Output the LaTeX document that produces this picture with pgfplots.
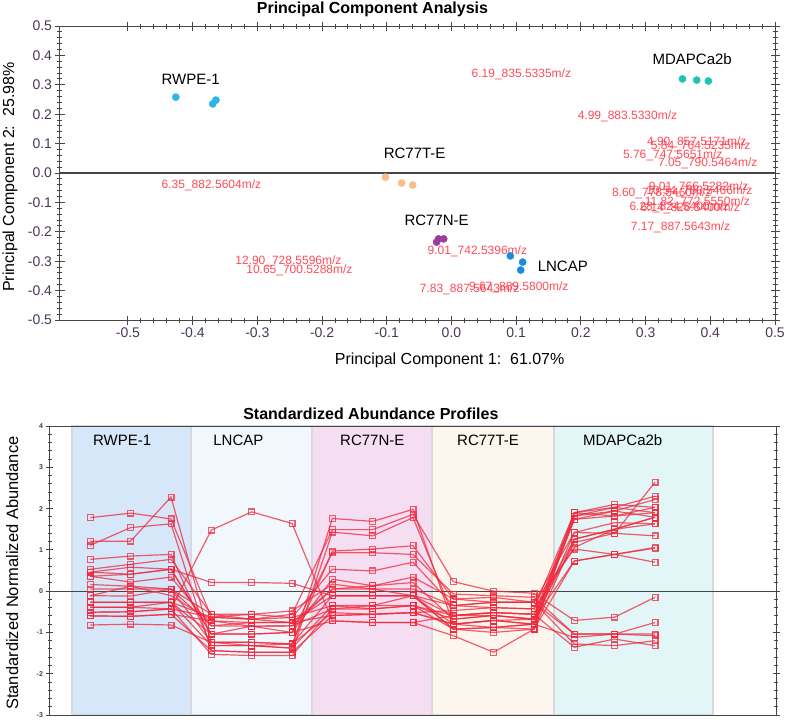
\documentclass[border=0pt]{standalone}
\usepackage{fontspec}
\setmainfont{Liberation Sans}
\usepackage{pgfplots}
\pgfplotsset{compat=1.18}

\definecolor{tickc}{RGB}{75,55,85}
\definecolor{axc}{RGB}{70,70,70}
\definecolor{loadc}{RGB}{255,55,70}
\definecolor{rwpe}{RGB}{45,180,235}
\definecolor{lncap}{RGB}{25,140,225}
\definecolor{rcn}{RGB}{155,60,160}
\definecolor{rct}{RGB}{247,190,135}
\definecolor{mda}{RGB}{30,195,180}
\definecolor{profc}{RGB}{240,40,60}
\definecolor{bandA}{RGB}{214,231,250}
\definecolor{bandB}{RGB}{240,247,253}
\definecolor{bandC}{RGB}{245,222,242}
\definecolor{bandD}{RGB}{253,246,238}
\definecolor{bandE}{RGB}{226,246,248}
\definecolor{bandedge}{RGB}{215,215,222}

\pgfplotsset{
  prof/.style={color=profc, draw opacity=0.75, line width=1.2pt, mark=square, mark size=2.9pt},
  pt/.style={only marks, mark=*, mark size=3.6pt},
}
\tikzset{
  lab/.style={font=\fontsize{12}{12}\selectfont, text=loadc, text opacity=0.9},
  grp/.style={font=\fontsize{15}{15}\selectfont},
  ttl/.style={font=\fontsize{16}{16}\selectfont\bfseries, anchor=base},
}

\begin{document}
\begin{tikzpicture}[x=1pt,y=1pt]
\path[use as bounding box] (0,0) rectangle (788,-723);

% ---------- PCA scores ----------
\begin{axis}[
  at={(60pt,-26pt)}, anchor=north west,
  scale only axis, width=715pt, height=294pt,
  xmin=-0.605, xmax=0.5, ymin=-0.5, ymax=0.5,
  xtick={-0.5,-0.4,-0.3,-0.2,-0.1,0,0.1,0.2,0.3,0.4,0.5},
  ytick={-0.5,-0.4,-0.3,-0.2,-0.1,0,0.1,0.2,0.3,0.4,0.5},
  minor tick num=4,
  tick align=center,
  major tick length=9pt, minor tick length=5pt,
  every tick/.style={axc, line width=1pt},
  axis line style={axc, line width=1pt},
  /pgf/number format/assume math mode=true,
  /pgf/number format/fixed, /pgf/number format/fixed zerofill,
  /pgf/number format/precision=1,
  ticklabel style={font=\fontsize{14}{14}\selectfont, text=tickc},
  xlabel={Principal Component 1:\ \ 61.07\%},
  xlabel style={at={(axis description cs:0.545,-0.136)}, anchor=center, font=\fontsize{16}{16}\selectfont},
  ylabel={Principal Component 2:\ \ 25.98\%},
  ylabel style={at={(axis description cs:-0.070,0.486)}, anchor=center, font=\fontsize{16}{16}\selectfont},
  clip=false,
]
\node[ttl] at (rel axis cs:0.437,1.041) {Principal Component Analysis};
\addplot[axc, line width=1.2pt] coordinates {(-0.605,0) (0.5,0)};

\addplot[pt, color=rwpe] coordinates {(-0.426,0.258) (-0.369,0.235) (-0.364,0.248)};
\addplot[pt, color=rct] coordinates {(-0.102,-0.014) (-0.077,-0.034) (-0.060,-0.041)};
\addplot[pt, color=rcn] coordinates {(-0.023,-0.235) (-0.020,-0.224) (-0.012,-0.224)};
\addplot[pt, color=lncap] coordinates {(0.091,-0.282) (0.110,-0.303) (0.107,-0.330)};
\addplot[pt, color=mda] coordinates {(0.357,0.320) (0.379,0.316) (0.397,0.313)};

\node[grp] at (axis cs:-0.403,0.320) {RWPE-1};
\node[grp] at (axis cs:-0.057,0.068) {RC77T-E};
\node[grp] at (axis cs:-0.023,-0.160) {RC77N-E};
\node[grp] at (axis cs:0.172,-0.316) {LNCAP};
\node[grp] at (axis cs:0.372,0.388) {MDAPCa2b};

\node[lab] at (axis cs:0.108,0.337) {6.19\_835.5335m/z};
\node[lab] at (axis cs:0.272,0.194) {4.99\_883.5330m/z};
\node[lab] at (axis cs:0.379,0.105) {4.90\_857.5171m/z};
\node[lab] at (axis cs:0.385,0.092) {5.84\_764.5235m/z};
\node[lab] at (axis cs:0.342,0.061) {5.76\_747.5651m/z};
\node[lab] at (axis cs:0.396,0.034) {7.05\_790.5464m/z};
\node[lab] at (axis cs:0.382,-0.048) {9.01\_766.5282m/z};
\node[lab] at (axis cs:0.325,-0.068) {8.60\_778.5460m/z};
\node[lab] at (axis cs:0.383,-0.061) {10.54\_780.5466m/z};
\node[lab] at (axis cs:0.380,-0.099) {11.82\_772.5550m/z};
\node[lab] at (axis cs:0.369,-0.119) {6.14\_826.5400m/z};
\node[lab] at (axis cs:0.352,-0.116) {6.28\_824.5400m/z};
\node[lab] at (axis cs:0.354,-0.184) {7.17\_887.5643m/z};
\node[lab] at (axis cs:0.040,-0.265) {9.01\_742.5396m/z};
\node[lab] at (axis cs:0.028,-0.395) {7.83\_887.5643m/z};
\node[lab] at (axis cs:0.104,-0.388) {9.67\_889.5800m/z};
\node[lab] at (axis cs:-0.252,-0.299) {12.90\_728.5596m/z};
\node[lab] at (axis cs:-0.235,-0.330) {10.65\_700.5288m/z};
\node[lab] at (axis cs:-0.371,-0.041) {6.35\_882.5604m/z};
\end{axis}

% ---------- Abundance profiles ----------
\begin{axis}[
  at={(50pt,-426pt)}, anchor=north west,
  scale only axis, width=726pt, height=289pt,
  xmin=0, xmax=18, ymin=-3, ymax=4,
  xtick=\empty,
  ytick={-3,-2,-1,0,1,2,3,4},
  minor y tick num=4,
  tick align=center,
  major tick length=7pt, minor tick length=4pt,
  every tick/.style={axc, line width=0.9pt},
  axis line style={axc, line width=1pt},
  axis on top,
  /pgf/number format/assume math mode=true,
  yticklabel style={font=\fontsize{7}{7}\selectfont\bfseries, text=tickc},
  ylabel={Standardized Normalized Abundance},
  ylabel style={at={(axis description cs:-0.052,0.491)}, anchor=center, font=\fontsize{16.5}{16.5}\selectfont},
  clip=false,
]
\addplot[fill=bandA, draw=bandedge, line width=2.5pt] coordinates {(0.55,-3) (0.55,4) (3.5,4) (3.5,-3) (0.55,-3)};
\addplot[fill=bandB, draw=bandedge, line width=2.5pt] coordinates {(3.5,-3) (3.5,4) (6.5,4) (6.5,-3) (3.5,-3)};
\addplot[fill=bandC, draw=bandedge, line width=2.5pt] coordinates {(6.5,-3) (6.5,4) (9.47,4) (9.47,-3) (6.5,-3)};
\addplot[fill=bandD, draw=bandedge, line width=2.5pt] coordinates {(9.47,-3) (9.47,4) (12.5,4) (12.5,-3) (9.47,-3)};
\addplot[fill=bandE, draw=bandedge, line width=2.5pt] coordinates {(12.5,-3) (12.5,4) (16.44,4) (16.44,-3) (12.5,-3)};

\node[ttl] at (rel axis cs:0.442,1.021) {Standardized Abundance Profiles};

\node[grp] at (axis cs:1.79,3.66) {RWPE-1};
\node[grp] at (axis cs:4.67,3.66) {LNCAP};
\node[grp] at (axis cs:7.99,3.66) {RC77N-E};
\node[grp] at (axis cs:10.86,3.66) {RC77T-E};
\node[grp] at (axis cs:14.2,3.66) {MDAPCa2b};

\addplot[axc, line width=1.2pt] coordinates {(0,0) (18,0)};

\addplot[prof] coordinates {(1,-0.60)(2,-0.61)(3,-0.56)(4,-1.44)(5,-1.48)(6,-1.48)(7,-0.59)(8,-0.56)(9,-0.52)(10,-0.80)(11,-0.71)(12,-0.80)(13,1.42)(14,1.40)(15,2.64)};
\addplot[prof] coordinates {(1,-0.51)(2,-0.50)(3,-0.43)(4,-1.53)(5,-1.56)(6,-1.56)(7,-0.43)(8,-0.43)(9,-0.35)(10,-0.68)(11,-0.59)(12,-0.68)(13,1.90)(14,2.03)(15,2.30)};
\addplot[prof] coordinates {(1,-0.39)(2,-0.39)(3,-0.27)(4,-1.32)(5,-1.32)(6,-1.38)(7,-0.35)(8,-0.35)(9,-0.11)(10,-0.59)(11,-0.52)(12,-0.56)(13,1.82)(14,1.94)(15,2.22)};
\addplot[prof] coordinates {(1,-0.82)(2,-0.80)(3,-0.82)(4,-1.24)(5,-1.24)(6,-1.28)(7,-0.52)(8,-0.56)(9,-0.52)(10,-0.47)(11,-0.40)(12,-0.43)(13,1.90)(14,2.10)(15,2.03)};
\addplot[prof] coordinates {(1,-0.27)(2,-0.27)(3,-0.27)(4,-1.04)(5,-1.04)(6,-1.00)(7,-0.72)(8,-0.76)(9,-0.76)(10,-1.08)(11,-1.48)(12,-0.92)(13,1.82)(14,2.03)(15,1.90)};
\addplot[prof] coordinates {(1,-0.11)(2,-0.12)(3,0.05)(4,-0.84)(5,-0.85)(6,-0.84)(7,-0.43)(8,-0.35)(9,-0.35)(10,-0.92)(11,-0.88)(12,-0.80)(13,1.74)(14,1.94)(15,1.79)};
\addplot[prof] coordinates {(1,-0.60)(2,-0.61)(3,-0.56)(4,-0.72)(5,-0.76)(6,-0.76)(7,-0.59)(8,-0.56)(9,-0.52)(10,-0.80)(11,-0.71)(12,-0.68)(13,1.74)(14,1.82)(15,1.90)};
\addplot[prof] coordinates {(1,0.05)(2,0.05)(3,0.05)(4,-1.24)(5,-1.32)(6,-1.28)(7,-0.11)(8,-0.11)(9,-0.11)(10,-0.35)(11,-0.27)(12,-0.27)(13,1.42)(14,1.66)(15,1.63)};
\addplot[prof] coordinates {(1,-0.39)(2,-0.39)(3,-0.43)(4,-0.63)(5,-0.68)(6,-0.64)(7,-0.35)(8,-0.43)(9,-0.35)(10,-0.59)(11,-0.52)(12,-0.56)(13,1.26)(14,1.50)(15,1.79)};
\addplot[prof] coordinates {(1,0.36)(2,0.22)(3,0.34)(4,-0.84)(5,-0.76)(6,-0.76)(7,0.05)(8,0.13)(9,0.21)(10,-0.68)(11,-0.59)(12,-0.68)(13,1.18)(14,1.40)(15,1.34)};
\addplot[prof] coordinates {(1,-0.11)(2,0.12)(3,0.05)(4,-0.56)(5,-0.56)(6,-0.48)(7,0.17)(8,0.05)(9,0.05)(10,-0.35)(11,-0.40)(12,-0.43)(13,1.06)(14,1.50)(15,1.63)};
\addplot[prof] coordinates {(1,0.46)(2,0.41)(3,0.53)(4,-1.04)(5,-0.85)(6,-1.00)(7,0.29)(8,0.13)(9,0.34)(10,-0.19)(11,-0.27)(12,-0.27)(13,1.02)(14,0.89)(15,1.06)};
\addplot[prof] coordinates {(1,-0.27)(2,-0.27)(3,-0.27)(4,-0.63)(5,-0.68)(6,-0.76)(7,-0.11)(8,-0.11)(9,-0.11)(10,-0.80)(11,-0.71)(12,-0.80)(13,1.90)(14,1.82)(15,2.03)};
\addplot[prof] coordinates {(1,0.16)(2,0.12)(3,-0.11)(4,-0.72)(5,-0.85)(6,-0.84)(7,0.05)(8,0.05)(9,-0.11)(10,-0.92)(11,-0.88)(12,-0.92)(13,1.26)(14,1.50)(15,1.79)};
\addplot[prof] coordinates {(1,-0.51)(2,-0.50)(3,-0.43)(4,1.48)(5,1.92)(6,1.64)(7,-0.72)(8,-0.76)(9,-0.76)(10,-0.59)(11,-0.59)(12,-0.68)(13,0.73)(14,0.89)(15,0.70)};
\addplot[prof] coordinates {(1,0.36)(2,0.41)(3,0.53)(4,0.21)(5,0.21)(6,0.19)(7,-0.11)(8,-0.11)(9,-0.11)(10,-0.92)(11,-1.00)(12,-0.92)(13,0.73)(14,0.89)(15,1.04)};
\addplot[prof] coordinates {(1,1.78)(2,1.89)(3,1.75)(4,-0.63)(5,-0.56)(6,-0.64)(7,0.53)(8,0.49)(9,0.70)(10,-0.35)(11,-0.27)(12,-0.27)(13,-1.04)(14,-1.04)(15,-1.08)};
\addplot[prof] coordinates {(1,1.21)(2,1.21)(3,2.28)(4,-1.24)(5,-1.24)(6,-1.28)(7,0.97)(8,1.02)(9,1.10)(10,-0.19)(11,-0.15)(12,-0.27)(13,-1.28)(14,-1.32)(15,-1.20)};
\addplot[prof] coordinates {(1,1.11)(2,1.54)(3,1.63)(4,-1.44)(5,-1.48)(6,-1.48)(7,1.43)(8,1.34)(9,1.78)(10,-0.59)(11,-0.52)(12,-0.56)(13,-1.36)(14,-1.16)(15,-1.32)};
\addplot[prof] coordinates {(1,0.77)(2,0.85)(3,0.89)(4,-1.32)(5,-1.32)(6,-1.38)(7,1.76)(8,1.69)(9,1.98)(10,-0.80)(11,-0.88)(12,-0.80)(13,-1.12)(14,-1.04)(15,-1.04)};
\addplot[prof] coordinates {(1,0.53)(2,0.65)(3,0.77)(4,-0.56)(5,-0.68)(6,-0.56)(7,1.49)(8,1.49)(9,1.86)(10,0.23)(11,0.00)(12,-0.05)(13,-0.71)(14,-0.63)(15,-0.15)};
\addplot[prof] coordinates {(1,0.46)(2,0.58)(3,0.53)(4,-1.04)(5,-1.04)(6,-1.00)(7,0.93)(8,0.93)(9,0.89)(10,-0.07)(11,-0.11)(12,-0.15)(13,-1.04)(14,-1.04)(15,-0.76)};
\end{axis}
\end{tikzpicture}
\end{document}
